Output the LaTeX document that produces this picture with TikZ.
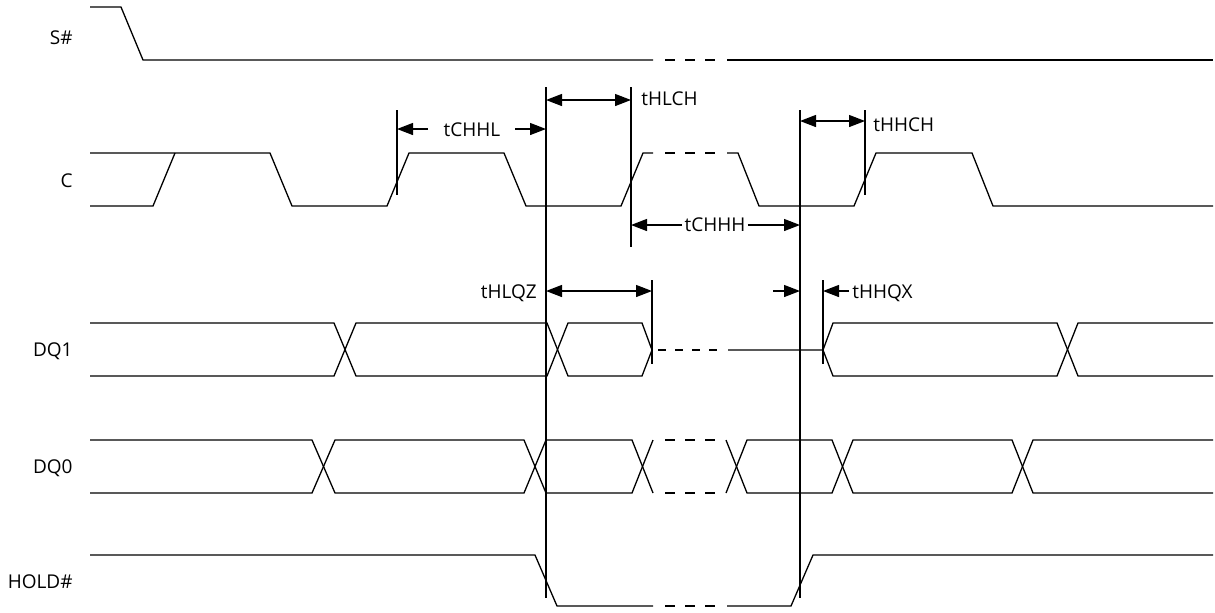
\documentclass[tikz,border=0pt]{standalone}
\usepackage{fontspec}
\setmainfont{Open Sans}
\usetikzlibrary{arrows.meta}
\begin{document}
\begin{tikzpicture}[x=0.5pt,y=-0.5pt,
  sig/.style={line width=0.65pt, line join=miter},
  dsh/.style={line width=0.65pt, dash pattern=on 5pt off 5pt},
  vln/.style={line width=0.65pt},
  dimarr/.style={line width=0.65pt, -{Triangle[length=8pt,width=6pt]}},
  dimboth/.style={line width=0.65pt, {Triangle[length=8pt,width=6pt]}-{Triangle[length=8pt,width=6pt]}},
  lbl/.style={font=\fontsize{9.5}{11}\selectfont, inner sep=0pt},
  signame/.style={lbl, anchor=east}]
\useasboundingbox (0,0) rectangle (1215,612);

% signal names
\node[signame] (nS) at (73,38) {S\#};
\node[signame] (nC) at (73,181) {C};
\node[signame] (nDQ1) at (73,351) {DQ1};
\node[signame] (nDQ0) at (73,468) {DQ0};
\node[signame] (nH) at (73,582) {HOLD\#};

% S#
\draw[sig] (90,7) -- (121,7) -- (143,60) -- (653,60);
\draw[dsh] (665,60) -- (715,60);
\draw[sig] (727,60) -- (1213,60);

% C
\draw[sig] (90,206) -- (153,206) -- (175,153);
\draw[sig] (90,153) -- (270,153) -- (292,206) -- (387,206) -- (409,153) -- (504,153)
  -- (526,206) -- (621,206) -- (643,153) -- (653,153);
\draw[dsh] (665,153) -- (715,153);
\draw[sig] (727,153) -- (738,153) -- (759,206) -- (854,206) -- (876,153) -- (972,153)
  -- (993,206) -- (1213,206);

% DQ1
\draw[sig] (90,323) -- (334,323) -- (356,376) -- (547,376) -- (568,323) -- (642,323) -- (652,350);
\draw[sig] (90,376) -- (334,376) -- (356,323) -- (547,323) -- (568,376) -- (642,376) -- (652,350);
\draw[line width=0.65pt, dash pattern=on 4pt off 4.5pt] (658,350) -- (718,350);
\draw[sig] (728,350) -- (823,350) -- (833,323) -- (1057,323) -- (1078,376) -- (1213,376);
\draw[sig] (823,350) -- (833,376) -- (1057,376) -- (1078,323) -- (1213,323);

% DQ0
\draw[sig] (90,440) -- (312,440) -- (335,493) -- (524,493) -- (546,440) -- (632,440) -- (653,493);
\draw[sig] (90,493) -- (312,493) -- (335,440) -- (524,440) -- (546,493) -- (632,493) -- (653,440);
\draw[dsh] (665,440) -- (715,440);
\draw[dsh] (665,493) -- (715,493);
\draw[sig] (726,440) -- (747,493) -- (832,493) -- (853,440) -- (1012,440) -- (1033,493) -- (1213,493);
\draw[sig] (726,493) -- (747,440) -- (832,440) -- (853,493) -- (1012,493) -- (1033,440) -- (1213,440);

% HOLD#
\draw[sig] (90,555) -- (535,555) -- (557,606) -- (653,606);
\draw[dsh] (665,606) -- (715,606);
\draw[sig] (727,606) -- (791,606) -- (813,555) -- (1213,555);

% reference lines
\coordinate (v1t) at (397,110); \coordinate (v1b) at (397,195);
\coordinate (v2t) at (546,87);  \coordinate (v2b) at (546,598);
\coordinate (v3t) at (631,87);  \coordinate (v3b) at (631,247);
\coordinate (v4t) at (800,110); \coordinate (v4b) at (800,598);
\coordinate (v5t) at (865,110); \coordinate (v5b) at (865,195);
\coordinate (v6t) at (652,280); \coordinate (v6b) at (652,364);
\coordinate (v7t) at (823,280); \coordinate (v7b) at (823,364);
\foreach \v in {1,...,7} {\draw[vln] (v\v t) -- (v\v b);}

% tCHHL
\node[lbl] (tchhl) at (472,130) {tCHHL};
\coordinate (a1t) at (428,129); \coordinate (a1h) at (397,129);
\coordinate (a2t) at (515,129); \coordinate (a2h) at (546,129);
\draw[dimarr] (a1t) -- (a1h);
\draw[dimarr] (a2t) -- (a2h);

% tHLCH
\coordinate (b1) at (546,100); \coordinate (b2) at (631,100);
\draw[dimboth] (b1) -- (b2);
\node[lbl, anchor=west] (thlch) at (641,99) {tHLCH};

% tCHHH
\node[lbl] (tchhh) at (715,225) {tCHHH};
\coordinate (c1) at (631,225); \coordinate (c2) at (800,225);
\draw[dimarr] ([xshift=-1pt]tchhh.west |- c1) -- (c1);
\draw[dimarr] ([xshift=1pt]tchhh.east |- c2) -- (c2);

% tHHCH
\coordinate (d1) at (800,121); \coordinate (d2) at (865,121);
\draw[dimboth] (d1) -- (d2);
\node[lbl, anchor=west] (thhch) at (873,125) {tHHCH};

% tHLQZ
\coordinate (e1) at (546,291); \coordinate (e2) at (652,291);
\draw[dimboth] (e1) -- (e2);
\node[lbl, anchor=east] (thlqz) at (537,293) {tHLQZ};

% tHHQX
\coordinate (f1t) at (773,291); \coordinate (f1h) at (800,291);
\coordinate (f2t) at (849,291); \coordinate (f2h) at (823,291);
\draw[dimarr] (f1t) -- (f1h);
\draw[dimarr] (f2t) -- (f2h);
\node[lbl, anchor=west] (thhqx) at (852,293) {tHHQX};
\end{tikzpicture}
\end{document}
